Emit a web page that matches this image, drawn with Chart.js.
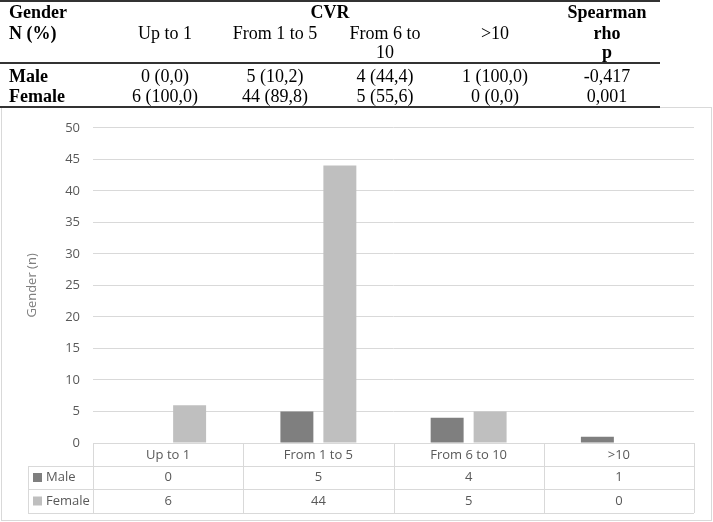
<!DOCTYPE html>
<html>
<head>
<meta charset="utf-8">
<script src="https://cdn.jsdelivr.net/npm/chart.js@4/dist/chart.umd.min.js"></script>
<style>
  html, body { margin: 0; padding: 0; background: #fff; }
  body { width: 713px; height: 522px; position: relative; overflow: hidden; }
  #tbl { position: absolute; left: 0; top: 0; width: 713px; height: 110px; z-index: 2;
         font-family: "Liberation Serif", "Times New Roman", serif; font-size: 18px; line-height: 20px; color: #000; }
  .c { position: absolute; text-align: center; white-space: pre; }
  .l { position: absolute; text-align: left; white-space: pre; }
  .b { font-weight: bold; }
  .rule { position: absolute; left: 0; width: 660px; background: #333; }
  #wrap { position: absolute; left: 0; top: 107px; width: 713px; height: 415px; z-index: 1; }
</style>
</head>
<body>
<div id="tbl"></div>
<div id="wrap"><canvas id="c" width="713" height="415"></canvas></div>
<script>
// ---- data ----
const categories = ['Up to 1', 'From 1 to 5', 'From 6 to 10', '>10'];
const tableHeaders = ['Up to 1', 'From 1 to 5', 'From 6 to\n10', '>10'];
const seriesNames = ['Male', 'Female'];
const maleCounts = [0, 5, 4, 1];
const femaleCounts = [6, 44, 5, 0];
const malePercent = ['0,0', '10,2', '44,4', '100,0'];
const femalePercent = ['100,0', '89,8', '55,6', '0,0'];
const spearmanRho = '-0,417';
const spearmanP = '0,001';
const yTicks = [0, 5, 10, 15, 20, 25, 30, 35, 40, 45, 50];

// ---- top table (HTML text) ----
(function buildTable() {
  const t = document.getElementById('tbl');
  function add(cls, text, left, top, width) {
    const d = document.createElement('div');
    d.className = cls;
    d.textContent = text;
    d.style.left = left + 'px';
    d.style.top = top + 'px';
    if (width) d.style.width = width + 'px';
    t.appendChild(d);
  }
  function rule(top, h) {
    const d = document.createElement('div');
    d.className = 'rule';
    d.style.top = top + 'px';
    d.style.height = h + 'px';
    t.appendChild(d);
  }
  const colW = 110, col0 = 110;
  add('l b', 'Gender', 9, 2);
  add('l b', 'N (%)', 9, 23);
  add('c b', 'CVR', col0, 2, colW * 4);
  tableHeaders.forEach((h, i) => {
    const parts = h.split('\n');
    parts.forEach((p, k) => add('c', p, col0 + i * colW, (k === 0 ? 23 : 42), colW));
  });
  add('c b', 'Spearman', col0 + 4 * colW + 2, 2, colW);
  add('c b', 'rho', col0 + 4 * colW + 2, 23, colW);
  add('c b', 'p', col0 + 4 * colW + 2, 42, colW);
  add('l b', seriesNames[0], 9, 66);
  add('l b', seriesNames[1], 9, 86);
  maleCounts.forEach((v, i) => add('c', v + ' (' + malePercent[i] + ')', col0 + i * colW, 66, colW));
  femaleCounts.forEach((v, i) => add('c', v + ' (' + femalePercent[i] + ')', col0 + i * colW, 86, colW));
  add('c', spearmanRho, col0 + 4 * colW + 2, 66, colW);
  add('c', spearmanP, col0 + 4 * colW + 2, 86, colW);
  rule(0, 2);
  rule(62, 2);
  rule(106, 1.5);
})();

// ---- chart ----
const FONT = '"Open Sans", "Liberation Sans", sans-serif';
const TXT = '#595959';
const LINE = '#d9d9d9';
const colors = ['#7f7f7f', '#bfbfbf'];

const dataTablePlugin = {
  id: 'dataTable',
  afterDraw(chart) {
    const ctx = chart.ctx;
    const xs = chart.scales.x, ys = chart.scales.y;
    const n = categories.length;
    const half = (xs.getPixelForValue(1) - xs.getPixelForValue(0)) / 2;
    const left = xs.getPixelForValue(0) - half;
    const right = xs.getPixelForValue(n - 1) + half;
    const top = ys.getPixelForValue(0);
    const rows = [top, top + 23, top + 46, top + 70];
    const legendLeft = 28;
    ctx.save();
    ctx.strokeStyle = LINE;
    ctx.lineWidth = 1;
    ctx.beginPath();
    // horizontal lines
    ctx.moveTo(left, Math.round(rows[0]) + 0.5); ctx.lineTo(right, Math.round(rows[0]) + 0.5);
    for (let r = 1; r < rows.length; r++) {
      ctx.moveTo(legendLeft, Math.round(rows[r]) + 0.5); ctx.lineTo(right, Math.round(rows[r]) + 0.5);
    }
    // vertical lines
    for (let i = 0; i <= n; i++) {
      const x = Math.round(left + i * 2 * half) + 0.5;
      ctx.moveTo(x, rows[0]); ctx.lineTo(x, rows[3]);
    }
    ctx.moveTo(legendLeft + 0.5, rows[1]); ctx.lineTo(legendLeft + 0.5, rows[3]);
    ctx.stroke();

    // values & legend keys
    ctx.font = '13px ' + FONT;
    ctx.textBaseline = 'middle';
    chart.data.datasets.forEach((ds, d) => {
      const cy = (rows[d + 1] + rows[d + 2]) / 2;
      ctx.fillStyle = ds.backgroundColor;
      ctx.fillRect(legendLeft + 5, cy - 4.5, 9, 9);
      ctx.fillStyle = TXT;
      ctx.textAlign = 'left';
      ctx.fillText(ds.label, legendLeft + 18, cy);
      ctx.textAlign = 'center';
      ds.data.forEach((v, i) => ctx.fillText(String(v), xs.getPixelForValue(i), cy));
    });

    // outer chart border
    ctx.strokeStyle = LINE;
    ctx.strokeRect(1.5, 0.5, chart.width - 3, chart.height - 2);
    ctx.restore();
  }
};

new Chart(document.getElementById('c'), {
  type: 'bar',
  data: {
    labels: categories,
    datasets: [
      { label: seriesNames[0], data: maleCounts, backgroundColor: colors[0] },
      { label: seriesNames[1], data: femaleCounts, backgroundColor: colors[1] }
    ]
  },
  options: {
    responsive: false,
    devicePixelRatio: 1,
    animation: false,
    categoryPercentage: 0.572,
    barPercentage: 0.767,
    layout: { padding: { left: 0, right: 19, top: 17, bottom: 0 } },
    plugins: { legend: { display: false }, tooltip: { enabled: false } },
    scales: {
      x: {
        grid: { display: false, drawTicks: false },
        border: { display: false },
        ticks: { color: TXT, font: { family: FONT, size: 13 }, padding: 4, maxRotation: 0 },
        afterFit(s) { s.height = 79; }
      },
      y: {
        min: 0, max: 50,
        afterBuildTicks(s) { s.ticks = yTicks.map(v => ({ value: v })); },
        grid: { color: LINE, drawTicks: false },
        border: { display: false },
        ticks: { color: TXT, font: { family: FONT, size: 13 }, padding: 13 },
        title: { display: true, text: 'Gender (n)', color: '#7f7f7f', font: { family: FONT, size: 13 }, padding: { top: 24, bottom: 0 } },
        afterFit(s) { s.width = 93; }
      }
    }
  },
  plugins: [dataTablePlugin]
});
</script>
</body>
</html>
